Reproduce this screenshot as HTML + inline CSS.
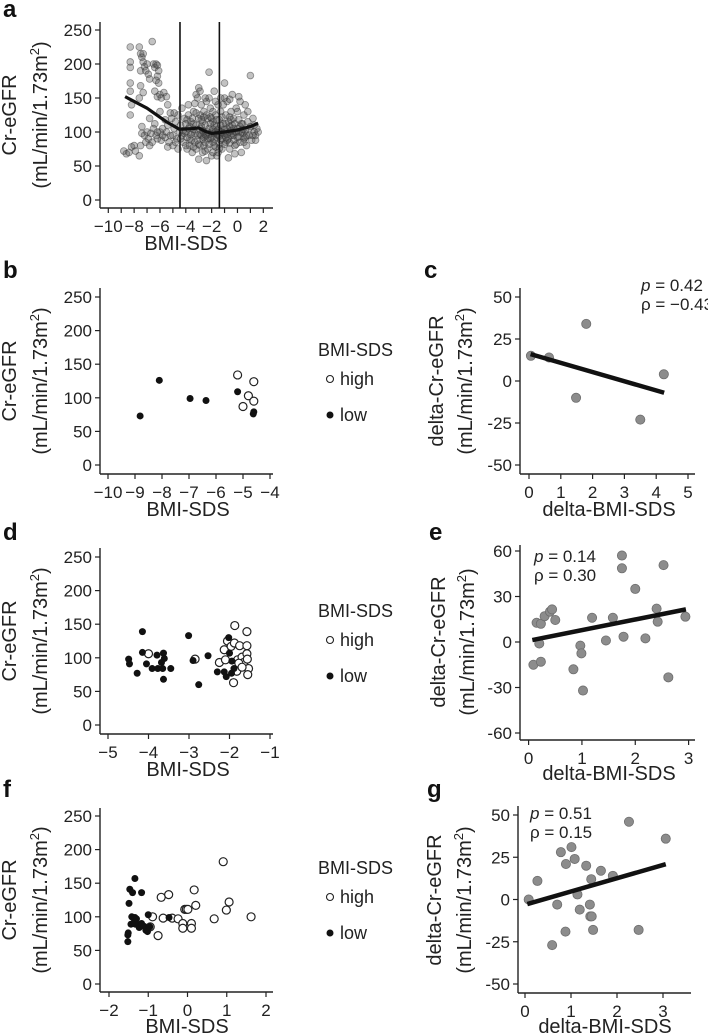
<!DOCTYPE html>
<html><head><meta charset="utf-8">
<style>
html,body{margin:0;padding:0;background:#fff;}
svg{display:block;font-family:"Liberation Sans",sans-serif;}
</style></head>
<body>
<svg id="fig" width="708" height="1035" viewBox="0 0 708 1035" xmlns="http://www.w3.org/2000/svg"></svg>
<script>
// ===== Panel a data =====
const aPoints = [[-8.8,72],[-8.6,68],[-8.4,70],[-8.2,78],[-8.0,80],[-7.9,72],[-7.6,65],[-7.5,80],
[-8.3,225],[-8.3,203],[-8.3,195],[-8.3,172],[-8.3,160],[-8.2,140],[-8.3,125],[-7.6,225],[-7.5,215],[-7.4,210],[-7.3,215],[-7.3,203],[-7.2,196],[-7.5,190],[-7.1,190],[-7.0,200],[-6.9,185],[-6.6,233],[-6.5,200],[-6.4,195],[-6.3,200],[-6.2,198],[-6.1,190],[-6.2,182],[-6.3,176],[-6.1,172],[-6.4,160],[-6.2,152],[-6.0,155],[-5.9,150],[-5.7,158],[-5.5,152],[-7.5,168],[-7.6,150],[-7.3,158],[-6.8,178],[-5.4,140],[-5.2,128],[-6.0,130],[-6.8,120],[-7.4,108],
[-7.4,98],[-7.2,95],[-7.0,100],[-6.9,90],[-6.7,98],[-6.6,85],[-6.5,105],[-6.3,95],[-6.2,90],[-6.0,100],[-5.9,88],[-5.8,95],[-5.6,92],[-5.5,100],[-5.4,110],[-5.3,85],[-5.2,95],[-5.1,120],[-5.0,80],[-4.9,105],[-4.8,115],[-4.7,90],[-4.6,75],[-4.5,100],[-6.8,80],[-6.4,112],[-5.8,105],[-5.6,118],[-7.1,85],[-5.0,95],[-4.8,85],[-4.6,125],[-6.2,100],[-5.4,78],[-4.9,128],
[-4.4,110],[-4.3,95],[-4.2,85],[-4.1,120],[-4.0,100],[-3.9,75],[-3.8,140],[-3.8,105],[-3.7,90],[-3.6,115],[-3.5,70],[-3.5,100],[-3.4,130],[-3.3,85],[-3.2,110],[-3.2,155],[-3.1,95],[-3.0,165],[-3.0,120],[-2.9,80],[-2.9,105],[-2.8,140],[-2.8,95],[-2.7,70],[-2.7,115],[-2.6,100],[-2.6,130],[-2.5,85],[-2.5,110],[-2.4,145],[-2.4,95],[-2.3,75],[-2.3,120],[-2.2,105],[-2.2,188],[-2.1,90],[-2.1,135],[-2.0,100],[-2.0,65],[-1.9,115],[-1.9,85],[-1.8,160],[-1.8,98],[-1.7,125],[-1.7,78],[-1.6,108],[-1.6,92],[-1.5,140],[-1.5,70],[-1.4,102],[-1.4,118],[-1.3,88],[-1.3,130],[-1.2,100],[-1.2,75],[-1.1,112],[-1.0,95],[-1.0,172],[-0.9,125],[-0.9,85],[-0.8,105],[-0.8,145],[-0.7,90],[-0.7,115],[-0.6,100],[-0.6,75],[-0.5,130],[-0.5,95],[-0.4,110],[-0.4,155],[-0.3,88],[-0.3,120],[-0.2,100],[-0.2,80],[-0.1,135],[0,105],[0,92],[0.1,118],[0.2,85],[0.2,145],[0.3,100],[0.4,112],[0.5,90],[0.5,125],[0.6,102],[0.7,80],[0.8,115],[0.9,95],[1.0,183],[1.0,108],[1.1,88],[1.2,120],[1.3,100],[1.4,95],[1.5,105],[1.6,100],[-4.3,135],[-4.0,80],[-3.6,88],[-3.3,98],[-2.9,125],[-2.5,72],[-2.0,120],[-1.6,65],[-1.1,140],[-0.7,62],[-0.2,68],[0.3,70],[-3.0,60],[-2.4,58],[-1.9,70],[-1.3,110],[-3.9,118],[-3.1,150],[-2.2,150],[-1.0,150],[-0.3,105],[0.6,140],[-4.1,98],[-3.7,108],[-3.4,112],[-2.8,108],[-2.3,100],[-1.8,110],[-1.5,95],[-0.9,100],[-0.4,98],[0.1,100],[0.4,98],[0.9,105],[1.2,95],[-2.6,92],[-2.1,112],[-1.2,90],[-0.6,122],[0.0,130],[0.7,95],[-3.2,75],[-2.7,90],[-1.4,82],[-0.8,88],
[-4.2,102],[-3.9,92],[-3.6,96],[-3.4,104],[-3.1,88],[-2.9,97],[-2.7,102],[-2.5,96],[-2.3,90],[-2.2,97],[-2.0,92],[-1.9,104],[-1.8,90],[-1.7,100],[-1.6,97],[-1.5,104],[-1.4,94],[-1.3,100],[-1.1,98],[-1.0,104],[-0.9,92],[-0.8,97],[-0.6,108],[-0.5,102],[-0.3,95],[-0.1,100],[0.1,93],[0.2,108],[0.4,104],[0.6,92],[-3.8,125],[-3.5,120],[-3.3,142],[-2.8,118],[-2.6,122],[-2.4,125],[-2.1,122],[-1.9,130],[-1.6,118],[-1.2,122],[-0.9,112],[-0.5,118],[-0.2,112],[0.3,112],[-3.7,80],[-3.4,78],[-3.0,82],[-2.6,80],[-2.2,82],[-1.8,80],[-1.4,76],[-1.0,82],[-0.6,84],[-0.1,82],[0.5,85],[1.3,110],[1.4,88],[-4.4,90],[-4.0,112],[-3.2,128],[-2.9,160],[-2.5,150],[-1.7,145],[-1.3,150],[-0.6,148],[0.1,152],[0.8,130]];
const aLoessX = [-8.7,-7,-5.5,-4.5,-3.5,-3,-2.5,-2,-1,0,1,1.6];
const aLoessY = [152,135,115,104,105,106,101,98,100,103,108,113];
const aCutoffs = [-4.45,-1.4];
const leftYTicks = [0,50,100,150,200,250];
const aXTicks = [-10,-9,-8,-7,-6,-5,-4,-3,-2,-1,0,1,2];
const aXLabels = ["−10","−8","−6","−4","−2","0","2"];
const aXLabelVals = [-10,-8,-6,-4,-2,0,2];

// ===== Panel b data =====
const bLowX = [-8.81,-8.1,-6.96,-6.37,-5.2,-4.6,-4.62];
const bLowY = [73,126,99,96,109,79,76];
const bHighX = [-5.2,-4.6,-4.8,-4.6,-5.0];
const bHighY = [134,124,103,95,87];
const bXTicks = [-10,-9,-8,-7,-6,-5,-4];

// ===== Panel c data =====
const cX = [0.06,0.63,1.8,1.48,3.5,4.24];
const cY = [15,14,34,-10,-23,4];
const cFitX = [0.05,4.25];
const cFitY = [16,-7];
const cYTicks = [-50,-25,0,25,50];
const cXTicks = [0,1,2,3,4,5];

// ===== Panel d data =====
const dLowX = [-4.49,-4.47,-4.28,-4.15,-4.15,-4.05,-3.91,-3.79,-3.77,-3.65,-3.63,-3.63,-3.61,-3.45,-3.68,-3.01,-2.90,-2.76,-2.53,-2.30,-2.13,-2.08,-2.02,-1.95,-1.94,-1.89,-2.0];
const dLowY = [98,91,77,139,108,91,84,104,84,84,107,68,99,84,93,133,96,60,103,79,79,72,130,77,95,84,107];
const dHighX = [-4.0,-2.85,-2.25,-2.13,-2.1,-2.05,-1.96,-1.87,-1.88,-1.8,-1.75,-1.69,-1.65,-1.57,-1.57,-1.57,-1.56,-1.53,-1.55,-1.9,-1.82,-1.77,-1.69];
const dHighY = [106,98,93,112,97,125,117,148,122,97,118,101,93,139,118,106,98,84,75,63,80,92,86];
const dXTicks = [-5,-4,-3,-2,-1];

// ===== Panel e data =====
const eX = [0.09,0.15,0.2,0.23,0.23,0.3,0.4,0.44,0.5,0.84,0.97,0.99,1.02,1.19,1.45,1.58,1.75,1.75,1.78,2.0,2.19,2.4,2.42,2.53,2.62,2.94];
const eY = [-15,12.7,-1,12,-13,17,20,21.5,14.5,-18,-2.4,-7.5,-32,16,1,16,57,48.6,3.5,35,2.4,22,13.4,50.7,-23.3,16.7];
const eFitX = [0.07,2.95];
const eFitY = [1.3,21.5];
const eYTicks = [-60,-30,0,30,60];
const eXTicks = [0,1,2,3];

// ===== Panel f data =====
const fLowX = [-1.52,-1.52,-1.51,-1.49,-1.47,-1.44,-1.42,-1.40,-1.38,-1.37,-1.34,-1.34,-1.33,-1.30,-1.25,-1.23,-1.17,-1.17,-1.11,-1.06,-1.02,-1.0,-0.96,-0.47];
const fLowY = [63,73,76,120,141,89,100,136,90,98,157,99,89,97,88,84,90,136,86,80,78,103,85,99];
const fHighX = [-0.89,-0.95,-0.75,-0.67,-0.62,-0.48,-0.39,-0.24,-0.12,-0.12,-0.07,-0.03,0.01,0.1,0.1,0.17,0.21,0.68,0.91,0.99,1.06,1.62];
const fHighY = [100,85,72,129,98,133,98,97,90,83,111,111,111,90,83,140,117,97,182,110,122,100];
const fXTicks = [-2,-1,0,1,2];

// ===== Panel g data =====
const gX = [0.08,0.27,0.70,0.78,0.89,0.88,0.59,1.01,1.08,1.14,1.19,1.33,1.41,1.44,1.42,1.45,1.48,1.65,1.91,2.26,2.47,3.06];
const gY = [0,11,-3,28,21,-19,-27,31,24,3,-6,20,-3,12,-10,-10,-18,17,14,46,-18,36];
const gFitX = [0.05,3.06];
const gFitY = [-2.7,20.9];
const gYTicks = [-50,-25,0,25,50];
const gXTicks = [0,1,2,3];

// ===== drawing helpers =====
const NS = "http://www.w3.org/2000/svg";
const svg = document.getElementById('fig');
function el(tag, attrs, parent){
  const e = document.createElementNS(NS, tag);
  for (const k in attrs) e.setAttribute(k, attrs[k]);
  (parent||svg).appendChild(e);
  return e;
}
function lin(d0,d1,p0,p1){ return v => p0 + (v-d0)*(p1-p0)/(d1-d0); }
function fmt(v){ return v<0 ? "−"+Math.abs(v) : String(v); }

function axes(g, P, yTicks, yLabels, xTicks, xLabelVals, xLabels){
  const yl = el('line',{x1:P.ax,y1:P.yTop,x2:P.ax,y2:P.axY,stroke:'#222','stroke-width':1.4},g);
  
  
  const xl = el('line',{x1:P.ax,y1:P.axY,x2:P.xEnd,y2:P.axY,stroke:'#222','stroke-width':1.4},g);
  
  
  yTicks.forEach((v,i)=>{
    const y = P.sy(v);
    el('line',{x1:P.ax-5,y1:y,x2:P.ax,y2:y,stroke:'#222','stroke-width':1.2},g);
    const t = el('text',{x:P.ax-8,y:y+6,'text-anchor':'end','font-size':17,fill:'#222'},g);
    t.textContent = yLabels[i];
    
    
  });
  xTicks.forEach(v=>{
    const x = P.sx(v);
    el('line',{x1:x,y1:P.axY,x2:x,y2:P.axY+5,stroke:'#222','stroke-width':1.2},g);
  });
  xLabelVals.forEach((v,i)=>{
    const t = el('text',{x:P.sx(v),y:P.axY+24,'text-anchor':'middle','font-size':17,fill:'#222'},g);
    t.textContent = xLabels[i];
    
    
  });
}
function yTitle(g, x1, x2, cy, main){
  const t1 = el('text',{x:0,y:0,'text-anchor':'middle','font-size':20,fill:'#222',transform:`translate(${x1},${cy}) rotate(-90)`},g);
  t1.textContent = main;
  
  
  const t2 = el('text',{x:0,y:0,'text-anchor':'middle','font-size':20,fill:'#222',transform:`translate(${x2},${cy}) rotate(-90)`},g);
  
  
  const a = el('tspan',{},t2); a.textContent = "(mL/min/1.73m";
  const b = el('tspan',{dy:-8,'font-size':13},t2); b.textContent = "2";
  const c = el('tspan',{dy:8},t2); c.textContent = ")";
}
function xTitle(g, cx, y, txt){
  const t = el('text',{x:cx,y:y,'text-anchor':'middle','font-size':20,fill:'#222'},g);
  t.textContent = txt;
  
  
}
function letter(x,y,ch){
  const t = el('text',{x:x,y:y,'font-size':24,'font-weight':'bold',fill:'#111'});
  t.textContent = ch;
  
  
}
function legend(g, ty){
  const t = el('text',{x:318,y:ty+6,'font-size':18,fill:'#222'},g);
  t.textContent = "BMI-SDS";
  
  
  const h = el('g',{},g);
  
  
  el('circle',{cx:330,cy:ty+29,r:3.5,fill:'#fff',stroke:'#222','stroke-width':1.1},h);
  const ht = el('text',{x:340,y:ty+35,'font-size':18,fill:'#222'},h); ht.textContent = "high";
  const l = el('g',{},g);
  
  
  el('circle',{cx:330,cy:ty+65,r:3.5,fill:'#111'},l);
  const lt = el('text',{x:340,y:ty+71,'font-size':18,fill:'#222'},l); lt.textContent = "low";
}
function groupPoints(g,P,xs,ys,open,name){
  xs.forEach((x,i)=>{
    const c = el('circle',{cx:P.sx(x),cy:P.sy(ys[i]),r:open?4:3.5,fill:open?'#fff':'#111',stroke:open?'#222':'none','stroke-width':1.2},g);
    
    
  });
}
function grayPoints(g,P,xs,ys){
  xs.forEach((x,i)=>{
    const c = el('circle',{cx:P.sx(x),cy:P.sy(ys[i]),r:4.6,fill:'#8c8c8c',stroke:'#6e6e6e','stroke-width':0.8},g);
    
    
  });
}
function fitLine(g,P,xs,ys){
  const l = el('line',{x1:P.sx(xs[0]),y1:P.sy(ys[0]),x2:P.sx(xs[1]),y2:P.sy(ys[1]),stroke:'#111','stroke-width':4.5},g);
  
  
}
function stats(g,x,y,pv,rv){
  const t1 = el('text',{x:x,y:y,'font-size':17,fill:'#222'},g);
  
  
  const i1 = el('tspan',{'font-style':'italic'},t1); i1.textContent = "p";
  const i2 = el('tspan',{},t1); i2.textContent = " = " + pv;
  const t2 = el('text',{x:x,y:y+19,'font-size':17,fill:'#222'},g);
  t2.textContent = "ρ = " + rv;
  
  
}
const lbl = arr => arr.map(fmt);
const plainLbl = arr => arr.map(v=>String(v));

// ===== Panel a =====
{
  const g = el('g',{});  
  const P = {sx:lin(-10,2,108.3,263.3), sy:lin(0,250,200,30), ax:100, axY:208, yTop:22, xEnd:273};
  axes(g,P,leftYTicks,plainLbl(leftYTicks),aXTicks,aXLabelVals,aXLabels);
  aPoints.forEach(p=>{
    const c = el('circle',{cx:P.sx(p[0]),cy:P.sy(p[1]),r:3.4,fill:'rgba(80,80,80,0.35)',stroke:'rgba(50,50,50,0.5)','stroke-width':0.8},g);
    
    
  });
  aCutoffs.forEach(v=>{
    const l = el('line',{x1:P.sx(v),y1:22,x2:P.sx(v),y2:208,stroke:'#111','stroke-width':1.6},g);
    
    
  });
  const pts = aLoessX.map((x,i)=>P.sx(x)+','+P.sy(aLoessY[i])).join(' ');
  const pl = el('polyline',{points:pts,fill:'none',stroke:'#111','stroke-width':3.2,'stroke-linejoin':'round'},g);
  
  
  yTitle(g,16,47,115,"Cr-eGFR");
  xTitle(g,186,250,"BMI-SDS");
  letter(3,17,'a');
}
// ===== Panel b =====
{
  const g = el('g',{});  
  const P = {sx:lin(-10,-4,108,270), sy:lin(0,250,465,297), ax:100, axY:474, yTop:288, xEnd:273};
  axes(g,P,leftYTicks,plainLbl(leftYTicks),bXTicks,bXTicks,lbl(bXTicks));
  groupPoints(g,P,bHighX,bHighY,true,'point-high');
  groupPoints(g,P,bLowX,bLowY,false,'point-low');
  legend(g,350);
  yTitle(g,16,47,381,"Cr-eGFR");
  xTitle(g,188,516,"BMI-SDS");
  letter(3,278,'b');
}
// ===== Panel c =====
{
  const g = el('g',{});  
  const P = {sx:lin(0,5,529,688), sy:lin(-50,50,465,297), ax:520, axY:474, yTop:288, xEnd:695};
  axes(g,P,cYTicks,plainLbl(cYTicks),cXTicks,cXTicks,plainLbl(cXTicks));
  grayPoints(g,P,cX,cY);
  fitLine(g,P,cFitX,cFitY);
  stats(g,641,291,"0.42","−0.43");
  yTitle(g,443,472,381,"delta-Cr-eGFR");
  xTitle(g,609,516,"delta-BMI-SDS");
  letter(424,278,'c');
}
// ===== Panel d =====
{
  const g = el('g',{});  
  const P = {sx:lin(-5,-1,108,270), sy:lin(0,250,725,557), ax:100, axY:734, yTop:548, xEnd:273};
  axes(g,P,leftYTicks,plainLbl(leftYTicks),dXTicks,dXTicks,lbl(dXTicks));
  groupPoints(g,P,dHighX,dHighY,true,'point-high');
  groupPoints(g,P,dLowX,dLowY,false,'point-low');
  legend(g,611);
  yTitle(g,16,47,641,"Cr-eGFR");
  xTitle(g,188,776,"BMI-SDS");
  letter(3,540,'d');
}
// ===== Panel e =====
{
  const g = el('g',{});  
  const P = {sx:lin(0,3,528.6,688.6), sy:lin(-60,60,733,551), ax:520, axY:740, yTop:545, xEnd:695};
  axes(g,P,eYTicks,plainLbl(eYTicks),eXTicks,eXTicks,plainLbl(eXTicks));
  grayPoints(g,P,eX,eY);
  fitLine(g,P,eFitX,eFitY);
  stats(g,534,562,"0.14","0.30");
  yTitle(g,445,474,642,"delta-Cr-eGFR");
  xTitle(g,609,780,"delta-BMI-SDS");
  letter(429,540,'e');
}
// ===== Panel f =====
{
  const g = el('g',{});  
  const P = {sx:lin(-2,2,109,266), sy:lin(0,250,984,816), ax:100, axY:992, yTop:808, xEnd:273};
  axes(g,P,leftYTicks,plainLbl(leftYTicks),fXTicks,fXTicks,lbl(fXTicks));
  groupPoints(g,P,fHighX,fHighY,true,'point-high');
  groupPoints(g,P,fLowX,fLowY,false,'point-low');
  legend(g,868);
  yTitle(g,16,47,900,"Cr-eGFR");
  xTitle(g,187,1033,"BMI-SDS");
  letter(3,797,'f');
}
// ===== Panel g =====
{
  const g = el('g',{});  
  const P = {sx:lin(0,3,525,663), sy:lin(-50,50,984,815), ax:518, axY:993, yTop:806, xEnd:691};
  axes(g,P,gYTicks,plainLbl(gYTicks),gXTicks,gXTicks,plainLbl(gXTicks));
  grayPoints(g,P,gX,gY);
  fitLine(g,P,gFitX,gFitY);
  stats(g,530,819,"0.51","0.15");
  yTitle(g,441,471,900,"delta-Cr-eGFR");
  xTitle(g,605,1033,"delta-BMI-SDS");
  letter(427,797,'g');
}
</script>
</body></html>
